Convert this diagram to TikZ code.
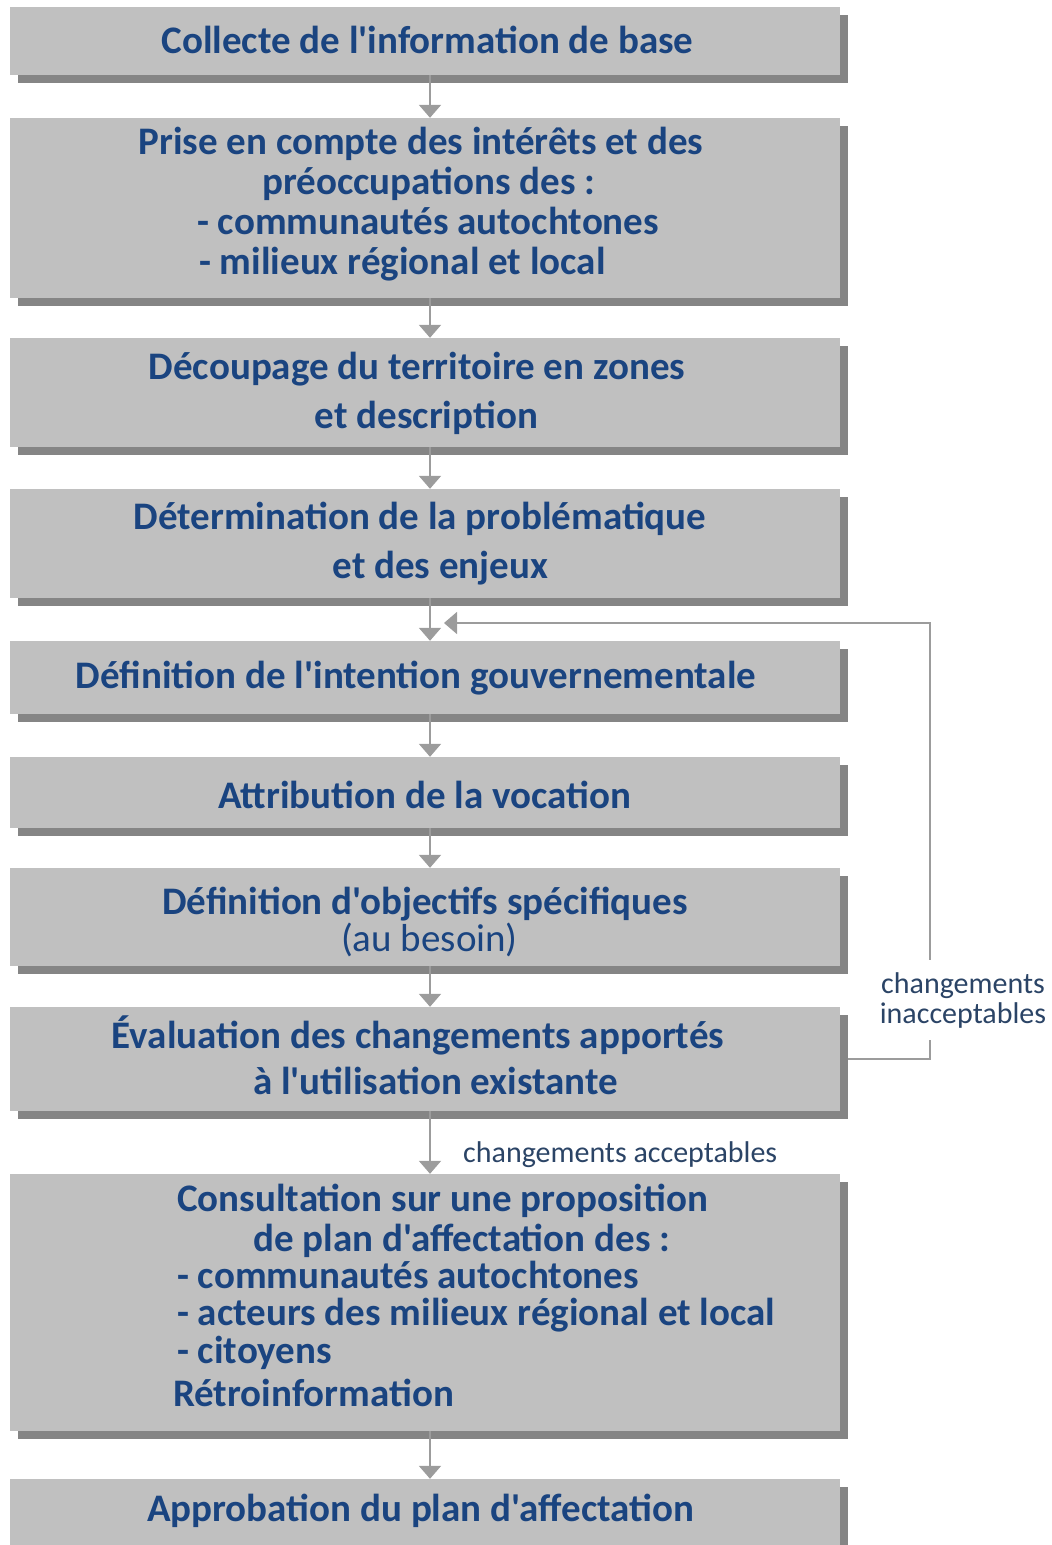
\documentclass[tikz,border=0pt]{standalone}
\usepackage{fontspec}
\newfontfamily\carlito{Carlito}
\usetikzlibrary{arrows.meta,shadows}
\definecolor{boxgray}{HTML}{C0C0C0}
\definecolor{shadowgray}{HTML}{858585}
\definecolor{linegray}{HTML}{9C9C9C}
\definecolor{navy}{HTML}{1A4480}
\definecolor{notenavy}{HTML}{2B4466}
\begin{document}
\begin{tikzpicture}[x=1pt,y=-1pt,
  box/.style={rectangle, fill=boxgray, minimum width=830pt, inner sep=0pt,
    general shadow={fill=shadowgray, shadow xshift=8pt, shadow yshift=-8pt}},
  ttl/.style={text=navy, font=\carlito\fontsize{39}{44}\selectfont\bfseries, inner sep=0pt},
  ttlreg/.style={text=navy, font=\carlito\fontsize{39}{44}\selectfont, inner sep=0pt},
  note/.style={text=notenavy, font=\carlito\fontsize{30}{30}\selectfont, inner sep=0pt},
  flow/.style={draw=linegray, line width=2pt, -{Triangle[width=22pt,length=13pt]}},
  backline/.style={draw=linegray, line width=1.5pt, -{Triangle[width=22pt,length=13pt]}}]
\useasboundingbox (0,0) rectangle (1052,1545);

% boxes
\node[box, minimum height=68pt]  (b1)  at (425,41)   {};
\node[box, minimum height=180pt] (b2)  at (425,208)  {};
\node[box, minimum height=109pt] (b3)  at (425,392.5) {};
\node[box, minimum height=109pt] (b4)  at (425,543.5) {};
\node[box, minimum height=73pt]  (b5)  at (425,677.5) {};
\node[box, minimum height=71pt]  (b6)  at (425,792.5) {};
\node[box, minimum height=98pt]  (b7)  at (425,917)  {};
\node[box, minimum height=104pt] (b8)  at (425,1059) {};
\node[box, minimum height=257pt] (b9)  at (425,1302.5) {};
\node[box, minimum height=90pt]  (b10) at (425,1524) {};

% box texts
\node[ttl, anchor=mid] (t1) at (427.5,51) {Collecte de l'information de base};
\node[ttl, anchor=mid] (t2a) at (421,152) {Prise en compte des intérêts et des};
\node[ttl, anchor=mid west] (t2b) at (262,192) {préoccupations des :};
\node[ttl, anchor=mid west] (t2c) at (197,232) {- communautés autochtones};
\node[ttl, anchor=mid west] (t2d) at (199,272) {- milieux régional et local};
\node[ttl, anchor=mid] (t3a) at (417,377) {Découpage du territoire en zones};
\node[ttl, anchor=mid] (t3b) at (426.5,426) {et description};
\node[ttl, anchor=mid] (t4a) at (420,527) {Détermination de la problématique};
\node[ttl, anchor=mid] (t4b) at (440.5,576) {et des enjeux};
\node[ttl, anchor=mid] (t5) at (416,686) {Définition de l'intention gouvernementale};
\node[ttl, anchor=mid] (t6) at (424.5,806) {Attribution de la vocation};
\node[ttl, anchor=mid] (t7a) at (425,912) {Définition d'objectifs spécifiques};
\node[ttlreg, anchor=mid] (t7b) at (429.5,949) {(au besoin)};
\node[ttl, anchor=mid] (t8a) at (418,1046) {Évaluation des changements apportés};
\node[ttl, anchor=mid] (t8b) at (435.5,1092) {à l'utilisation existante};
\node[ttl, anchor=mid west] (t9a) at (177,1209) {Consultation sur une proposition};
\node[ttl, anchor=mid west] (t9b) at (253,1249) {de plan d'affectation des :};
\node[ttl, anchor=mid west] (t9c) at (177,1286) {- communautés autochtones};
\node[ttl, anchor=mid west] (t9d) at (177,1323) {- acteurs des milieux régional et local};
\node[ttl, anchor=mid west] (t9e) at (177,1361) {- citoyens};
\node[ttl, anchor=mid west] (t9f) at (173,1404) {Rétroinformation};
\node[ttl, anchor=mid] (t10) at (420.5,1519) {Approbation du plan d'affectation};

% main flow
\coordinate (ax) at (430,0);
\draw[flow] (b1.south -| ax) -- (b2.north -| ax);
\draw[flow] (b2.south -| ax) -- (b3.north -| ax);
\draw[flow] (b3.south -| ax) -- (b4.north -| ax);
\draw[flow] (b4.south -| ax) -- (b5.north -| ax);
\draw[flow] (b5.south -| ax) -- (b6.north -| ax);
\draw[flow] (b6.south -| ax) -- (b7.north -| ax);
\draw[flow] (b7.south -| ax) -- (b8.north -| ax);
\draw[flow] (b8.south -| ax) -- (b9.north -| ax);
\draw[flow] (b9.south -| ax) -- (b10.north -| ax);

% return path for unacceptable changes
\coordinate (loopR) at (930,0);
\coordinate (ret) at (444,623);
\draw[backline] ([xshift=8pt]b8.east) -- (b8.east -| loopR) |- (ret);
\node[note, fill=white, align=center, inner xsep=2pt, inner ysep=12pt] (lblno) at (963,1000)
  {changements\\inacceptables};

% label of the accepted branch
\node[note, anchor=mid west] (lblyes) at (463,1160) {changements acceptables};
\end{tikzpicture}
\end{document}
